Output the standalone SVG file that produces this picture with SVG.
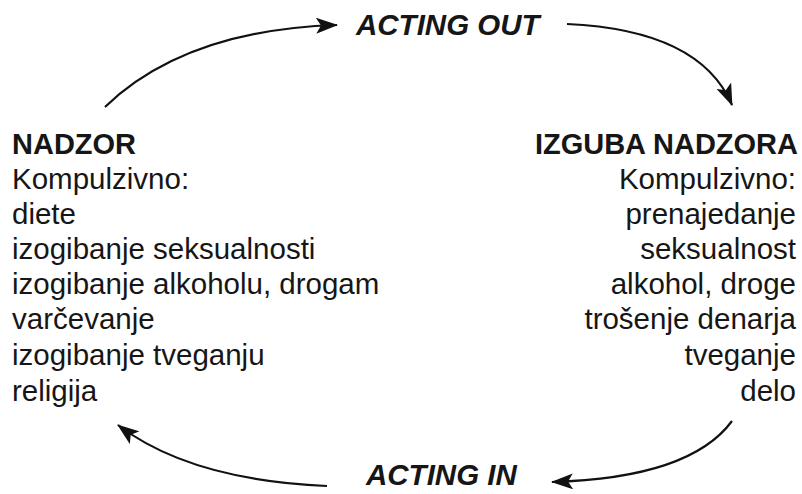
<svg xmlns="http://www.w3.org/2000/svg" width="802" height="494" viewBox="0 0 802 494">
<defs>
<marker id="ah" markerUnits="userSpaceOnUse" viewBox="0 0 22 16" refX="21" refY="8" markerWidth="22" markerHeight="16" orient="auto">
<path d="M0,0 L22,8 L0,16 L5,8 z" fill="#111"/>
</marker>
<style>
text{font-family:"Liberation Sans",Arial,Helvetica,sans-serif;fill:#161616;}
.h{font-weight:bold;font-size:29px;}
.t{font-size:29.5px;}
.lbl{font-weight:bold;font-style:italic;font-size:29.5px;}
.c{fill:none;stroke:#111;stroke-width:2.2;marker-end:url(#ah);}
.r{text-anchor:end;}
</style>
</defs>
<rect width="802" height="494" fill="#fff"/>
<g id="connectors">
<path class="c" d="M105,107 Q185,30 337,25"/>
<path class="c" d="M567,24 Q700,30 732,105"/>
<path class="c" d="M732,421 Q690,478 552,482"/>
<path class="c" d="M327,486 Q190,480 118,425"/>
</g>
<g id="acting-out"><text class="lbl" x="356" y="35">ACTING OUT</text></g>
<g id="acting-in"><text class="lbl" x="366" y="485">ACTING IN</text></g>
<g id="nadzor">
<text class="h" x="12" y="154">NADZOR</text>
<text class="t" x="12" y="189">Kompulzivno:</text>
<text class="t" x="12" y="224">diete</text>
<text class="t" x="12" y="259">izogibanje seksualnosti</text>
<text class="t" x="12" y="294">izogibanje alkoholu, drogam</text>
<text class="t" x="12" y="329">varčevanje</text>
<text class="t" x="12" y="365">izogibanje tveganju</text>
<text class="t" x="12" y="401">religija</text>
</g>
<g id="izguba-nadzora">
<text class="h r" x="798" y="154">IZGUBA NADZORA</text>
<text class="t r" x="796" y="189">Kompulzivno:</text>
<text class="t r" x="796" y="224">prenajedanje</text>
<text class="t r" x="796" y="259">seksualnost</text>
<text class="t r" x="796" y="294">alkohol, droge</text>
<text class="t r" x="796" y="329">trošenje denarja</text>
<text class="t r" x="796" y="365">tveganje</text>
<text class="t r" x="796" y="401">delo</text>
</g>
</svg>
